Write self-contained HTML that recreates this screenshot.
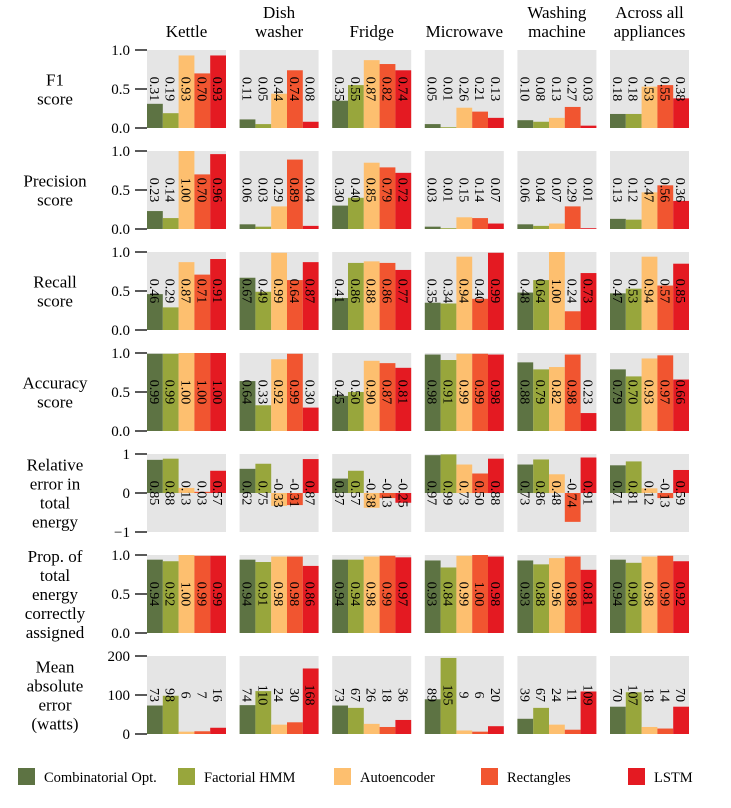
<!DOCTYPE html>
<html><head><meta charset="utf-8">
<style>
html,body{margin:0;padding:0;background:#fff;}
svg{display:block;font-family:"Liberation Serif",serif;}
</style></head>
<body>
<svg id="chart" width="731" height="808" viewBox="0 0 731 808" xmlns="http://www.w3.org/2000/svg"></svg>
<script>
const appliances = ["Kettle", "Dish|washer", "Fridge", "Microwave", "Washing|machine", "Across all|appliances"];
const methods = ["Combinatorial Opt.", "Factorial HMM", "Autoencoder", "Rectangles", "LSTM"];
const metricTitles = ["F1|score", "Precision|score", "Recall|score", "Accuracy|score", "Relative|error in|total|energy", "Prop. of|total|energy|correctly|assigned", "Mean|absolute|error|(watts)"];
const yMins = [0, 0, 0, 0, -1, 0, 0];
const yMaxs = [1, 1, 1, 1, 1, 1, 200];
const tickValues = [[0, 0.5, 1], [0, 0.5, 1], [0, 0.5, 1], [0, 0.5, 1], [-1, 0, 1], [0, 0.5, 1], [0, 100, 200]];
const tickLabels = [["0.0", "0.5", "1.0"], ["0.0", "0.5", "1.0"], ["0.0", "0.5", "1.0"], ["0.0", "0.5", "1.0"], ["\u22121", "0", "1"], ["0.0", "0.5", "1.0"], ["0", "100", "200"]];
const decimals = [2, 2, 2, 2, 2, 2, 0];
const f1Values = [[0.31,0.19,0.93,0.70,0.93],[0.11,0.05,0.44,0.74,0.08],[0.35,0.55,0.87,0.82,0.74],[0.05,0.01,0.26,0.21,0.13],[0.10,0.08,0.13,0.27,0.03],[0.18,0.18,0.53,0.55,0.38]];
const precisionValues = [[0.23,0.14,1.00,0.70,0.96],[0.06,0.03,0.29,0.89,0.04],[0.30,0.40,0.85,0.79,0.72],[0.03,0.01,0.15,0.14,0.07],[0.06,0.04,0.07,0.29,0.01],[0.13,0.12,0.47,0.56,0.36]];
const recallValues = [[0.46,0.29,0.87,0.71,0.91],[0.67,0.49,0.99,0.64,0.87],[0.41,0.86,0.88,0.86,0.77],[0.35,0.34,0.94,0.40,0.99],[0.48,0.64,1.00,0.24,0.73],[0.47,0.53,0.94,0.57,0.85]];
const accuracyValues = [[0.99,0.99,1.00,1.00,1.00],[0.64,0.33,0.92,0.99,0.30],[0.45,0.50,0.90,0.87,0.81],[0.98,0.91,0.99,0.99,0.98],[0.88,0.79,0.82,0.98,0.23],[0.79,0.70,0.93,0.97,0.66]];
const relErrorValues = [[0.85,0.88,0.13,0.03,0.57],[0.62,0.75,-0.33,-0.31,0.87],[0.37,0.57,-0.38,-0.13,-0.25],[0.97,0.99,0.73,0.50,0.88],[0.73,0.86,0.48,-0.74,0.91],[0.71,0.81,0.12,-0.13,0.59]];
const propAssignedValues = [[0.94,0.92,1.00,0.99,0.99],[0.94,0.91,0.98,0.98,0.86],[0.94,0.94,0.98,0.99,0.97],[0.93,0.84,0.99,1.00,0.98],[0.93,0.88,0.96,0.98,0.81],[0.94,0.90,0.98,0.99,0.92]];
const maeValues = [[73,98,6,7,16],[74,110,24,30,168],[73,67,26,18,36],[89,195,9,6,20],[39,67,24,11,109],[70,107,18,14,70]];
const allMetrics = [f1Values, precisionValues, recallValues, accuracyValues, relErrorValues, propAssignedValues, maeValues];

const colors = ["#5d7343", "#98a63c", "#fdbf6f", "#f15530", "#e41a22"];
const NS = "http://www.w3.org/2000/svg";
const svg = document.getElementById("chart");
const panelX0 = 147, panelPitch = 92.6, panelW = 79;
const panelY0 = 50, rowPitch = 101, panelH = 78;
function mk(tag, attrs, parent) {
  const e = document.createElementNS(NS, tag);
  for (const k in attrs) e.setAttribute(k, attrs[k]);
  (parent || svg).appendChild(e);
  return e;
}
function slug(s) { return s.replace(/\|/g, " ").toLowerCase().replace(/[^a-z0-9]+/g, "-").replace(/^-|-$/g, ""); }

appliances.forEach((a, c) => {
  const lines = a.split("|");
  const cx = panelX0 + c * panelPitch + panelW / 2;
  const t = mk("text", {x: cx, "text-anchor": "middle", "font-size": 17, fill: "#000"});
  
  
  lines.forEach((ln, i) => {
    const ts = mk("tspan", {x: cx, y: 37 - (lines.length - 1 - i) * 19}, t);
    ts.textContent = ln;
  });
});

allMetrics.forEach((metric, r) => {
  const top = panelY0 + r * rowPitch;
  const yMin = yMins[r], yMax = yMaxs[r];
  const yScale = v => top + panelH - (v - yMin) / (yMax - yMin) * panelH;
  const lines = metricTitles[r].split("|");
  const cy = top + panelH / 2;
  const t = mk("text", {x: 55, "text-anchor": "middle", "font-size": 17, fill: "#000"});
  
  
  lines.forEach((ln, i) => {
    const ts = mk("tspan", {x: 55, y: cy + 6 + (i - (lines.length - 1) / 2) * 19}, t);
    ts.textContent = ln;
  });
  const ax = mk("g", {});
  
  
  tickValues[r].forEach((tv, i) => {
    const y = yScale(tv);
    mk("line", {x1: 135, x2: 147, y1: y, y2: y, stroke: "#000", "stroke-width": 1.3}, ax);
    const tl = mk("text", {x: 130, y: y + 5, "text-anchor": "end", "font-size": 15, fill: "#000"}, ax);
    tl.textContent = tickLabels[r][i];
  });
  metric.forEach((vals, c) => {
    const px = panelX0 + c * panelPitch;
    const g = mk("g", {});
    
    
    mk("rect", {x: px, y: top, width: panelW, height: panelH, fill: "#e5e5e5"}, g);
    const bw = panelW / vals.length;
    vals.forEach((v, k) => {
      const yv = yScale(v), yz = yScale(0);
      const b = mk("rect", {x: px + k * bw, y: Math.min(yv, yz), width: bw, height: Math.abs(yz - yv), fill: colors[k]}, g);
      
      
    });
    vals.forEach((v, k) => {
      const lx = px + k * bw + bw / 2 - 5;
      const ly = top + panelH / 2;
      const lt = mk("text", {x: 0, y: 0, "text-anchor": "middle", "font-size": 14, fill: "#000", transform: "translate(" + lx + "," + ly + ") rotate(90)"}, g);
      
      
      lt.textContent = v.toFixed(decimals[r]);
    });
  });
});

const legendX = [18, 178, 334, 481, 628];
methods.forEach((m, k) => {
  const g = mk("g", {});
  
  
  mk("rect", {x: legendX[k], y: 768, width: 17, height: 17, fill: colors[k]}, g);
  const t = mk("text", {x: legendX[k] + 26, y: 782, "font-size": 14.5, fill: "#000"}, g);
  t.textContent = m;
});
</script>
</body></html>
